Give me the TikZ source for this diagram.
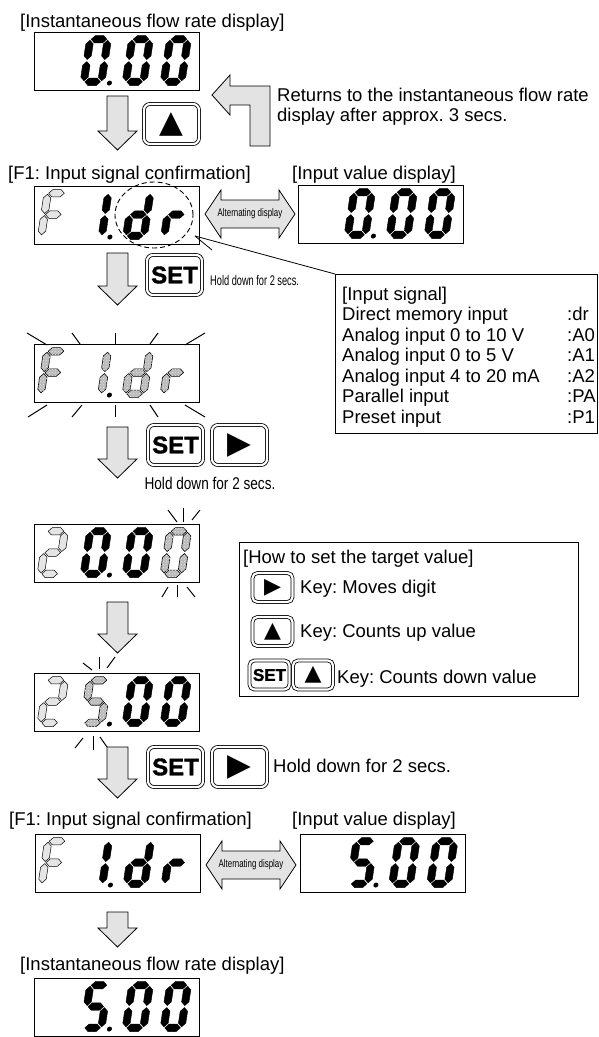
\documentclass[tikz,border=0pt]{standalone}
\usepackage{fontspec}
\setmainfont{Liberation Sans}
\newfontfamily\symfont{DejaVu Sans}
\newfontfamily\keyfont[FakeBold=1.6]{Liberation Sans Bold}
\usepackage{graphicx}
\usetikzlibrary{patterns}
\frenchspacing

% one segment, horizontal or vertical (local units, y down)
\newcommand\sgt{3.7}
\newcommand\hsg[4]{\path[#1] ({#2+1},#4) -- ({#2+1+\sgt},{#4-\sgt}) -- ({#3-1-\sgt},{#4-\sgt}) -- ({#3-1},#4) -- ({#3-1-\sgt},{#4+\sgt}) -- ({#2+1+\sgt},{#4+\sgt}) -- cycle;}
\newcommand\vsg[4]{\path[#1] (#2,{#3+1}) -- ({#2+\sgt},{#3+1+\sgt}) -- ({#2+\sgt},{#4-1-\sgt}) -- (#2,{#4-1}) -- ({#2-\sgt},{#4-1-\sgt}) -- ({#2-\sgt},{#3+1+\sgt}) -- cycle;}
\newcommand\sga[1]{\hsg{#1}{3.7}{21.3}{3.7}}
\newcommand\sgb[1]{\vsg{#1}{21.3}{3.7}{25}}
\newcommand\sgc[1]{\vsg{#1}{21.3}{25}{46.3}}
\newcommand\sgd[1]{\hsg{#1}{3.7}{21.3}{46.3}}
\newcommand\sge[1]{\vsg{#1}{3.7}{25}{46.3}}
\newcommand\sgf[1]{\vsg{#1}{3.7}{3.7}{25}}
\newcommand\sgg[1]{\hsg{#1}{3.7}{21.3}{25}}
% digit: display node, x offset, style, segments
\newcommand\segdigit[4]{%
  \begin{scope}[shift={(#1.north west)}, shift={(#2,4)}, xslant=0.15]
    \foreach \s in {#4} {\csname sg\s\endcsname{#3}}
  \end{scope}}
\newcommand\segdot[1]{%
  \begin{scope}[shift={(#1.north west)}, shift={(53.5,4)}, xslant=0.15]
    \fill (29.5,47.5) circle[radius=2.5pt];
  \end{scope}}
\newcommand\flowarrow[3]{\path[blockarrow] ({#1-10.5},#2) -- ({#1+10.5},#2) -- ({#1+10.5},{#3-19}) -- ({#1+19.5},{#3-19}) -- (#1,#3) -- ({#1-19.5},{#3-19}) -- ({#1-10.5},{#3-19}) -- cycle;}
\newcommand\altarrow[4]{%
  \path[blockarrow] (#2,#4) -- ({#2+16},{#4-24}) -- ({#2+16},{#4-14}) -- ({#3-16},{#4-14}) -- ({#3-16},{#4-24}) -- (#3,#4) -- ({#3-16},{#4+24}) -- ({#3-16},{#4+14}) -- ({#2+16},{#4+14}) -- ({#2+16},{#4+24}) -- cycle;
  \node[alttxt] (#1) at ({(#2+#3)/2},#4) {\scalebox{0.72}[1]{Alternating display}};}
\newcommand\keyup[1][31]{{\symfont\fontsize{#1}{#1}\selectfont ▲}}
\newcommand\keyright[1][31]{{\symfont\fontsize{#1}{#1}\selectfont ▶}}
\newcommand\keyset[1][24]{{\keyfont\fontsize{#1}{#1}\selectfont SET}}

\tikzset{
  dispbox/.style={draw, line width=0.9pt, minimum width=165, minimum height=58, inner sep=0},
  segon/.style={fill=black, draw=black, line width=0.4pt},
  segdim/.style={fill=gray!20, draw=black, line width=0.5pt},
  segblink/.style={fill=gray!55, draw=black, line width=0.6pt,
    postaction={pattern=crosshatch dots, pattern color=gray!20}},
  ray/.style={line width=1pt},
  blockarrow/.style={fill=gray!22, draw=black, line width=0.8pt},
  keybox/.style={draw, double, double distance=2.2pt, line width=0.8pt,
    rounded corners=6pt, minimum width=55, minimum height=40, inner sep=0},
  smallkey/.style={keybox, rounded corners=5pt, minimum width=40, minimum height=29},
  txt/.style={inner sep=0, font=\fontsize{18.5}{20}\selectfont},
  alttxt/.style={inner sep=0, font=\fontsize{11}{12}\selectfont},
  infobox/.style={draw, line width=0.9pt, inner sep=0}
}

\begin{document}
\begin{tikzpicture}[x=1pt, y=-1pt]
\useasboundingbox (0,0) rectangle (598,1037);

% instantaneous flow rate
\node[txt, anchor=base west] (t1) at (20,27) {[Instantaneous flow rate display]};
\node[dispbox] (d1) at (116.5,61) {};
\segdigit{d1}{53.5}{segon}{a,b,c,d,e,f}
\segdot{d1}
\segdigit{d1}{95.5}{segon}{a,b,c,d,e,f}
\segdigit{d1}{133.5}{segon}{a,b,c,d,e,f}

\flowarrow{117.5}{96}{150}
\node[keybox] (k1) at (171.5,124) {\keyup};
\path[blockarrow] (212,95) -- (230,75) -- (230,86) -- (270,86) -- (270,146) -- (250,146)
  -- (250,105) -- (230,105) -- (230,115) -- cycle;
\node[txt, anchor=base west] (r1) at (277,101) {Returns to the instantaneous flow rate};
\node[txt, anchor=base west] (r2) at (277,121) {display after approx. 3 secs.};

% F1 confirmation
\node[txt, anchor=base west] (t2) at (8,179) {[F1: Input signal confirmation]};
\node[txt, anchor=base west] (t3) at (292,179) {[Input value display]};
\node[dispbox] (d2) at (117,215) {};
\segdigit{d2}{10.5}{segdim}{a,f,g,e}
\segdigit{d2}{53.5}{segon}{b,c}
\segdot{d2}
\segdigit{d2}{95.5}{segon}{b,c,d,e,g}
\segdigit{d2}{133.5}{segon}{e,g}
\node[dispbox] (d3) at (380.5,214) {};
\segdigit{d3}{53.5}{segon}{a,b,c,d,e,f}
\segdot{d3}
\segdigit{d3}{95.5}{segon}{a,b,c,d,e,f}
\segdigit{d3}{133.5}{segon}{a,b,c,d,e,f}
\altarrow{alt1}{205}{295}{214}

% callout to input signal list
\draw[dashed, dash pattern=on 5pt off 3pt, line width=0.9pt] (154,215) ellipse[x radius=39pt, y radius=33pt];
\node[infobox, minimum width=262, minimum height=159, anchor=north west] (sig) at (335,274) {};
\coordinate (tip) at (195,236);
\draw[line width=0.8pt] (tip) -- (sig.north west);
\draw[line width=0.8pt] (tip) -- (212,250);
\node[txt, anchor=base west] (sg0) at (342,300) {[Input signal]};
\foreach \lbl/\code [count=\i] in {Direct memory input/:dr, Analog input 0 to 10 V/:A0,
    Analog input 0 to 5 V/:A1, Analog input 4 to 20 mA/:A2, Parallel input/:PA, Preset input/:P1}
{
  \node[txt, anchor=base west] (sl\i) at (342,{300+20.5*\i}) {\lbl};
  \node[txt, anchor=base west] (sc\i) at (567,{300+20.5*\i}) {\code};
}

\flowarrow{117.5}{253}{305}
\node[keybox] (k2) at (174.5,275) {\keyset};
\node[anchor=base west, inner sep=0, font=\fontsize{14}{14}\selectfont] (h1) at (210,285)
  {\scalebox{0.66}[1]{Hold down for 2 secs.}};

% blinking F1.dr
\node[dispbox] (d4) at (116.5,373) {};
\segdigit{d4}{10.5}{segblink}{a,f,g,e}
\segdigit{d4}{53.5}{segblink}{b,c}
\segdot{d4}
\segdigit{d4}{95.5}{segblink}{b,c,d,e,g}
\segdigit{d4}{133.5}{segblink}{e,g}
\draw[ray] (27,333) -- (47,345);
\draw[ray] (72,333) -- (80,344);
\draw[ray] (115,333) -- (115,345);
\draw[ray] (158,333) -- (150,344);
\draw[ray] (205,333) -- (185,345);
\draw[ray] (28,417) -- (47,405);
\draw[ray] (72,417) -- (82,405);
\draw[ray] (115,417) -- (115,405);
\draw[ray] (158,417) -- (150,405);
\draw[ray] (205,417) -- (185,405);

\flowarrow{117.5}{427}{478}
\node[keybox] (k3) at (175.5,445) {\keyset};
\node[keybox] (k4) at (239.5,445) {\keyright};
\node[anchor=base, inner sep=0, font=\fontsize{17}{17}\selectfont] (h2) at (210,489)
  {\scalebox{0.8}[1]{Hold down for 2 secs.}};

% 20.00
\node[dispbox] (d5) at (116.5,553) {};
\segdigit{d5}{10.5}{segdim}{a,b,g,e,d}
\segdigit{d5}{53.5}{segon}{a,b,c,d,e,f}
\segdot{d5}
\segdigit{d5}{95.5}{segon}{a,b,c,d,e,f}
\segdigit{d5}{133.5}{segblink}{a,b,c,d,e,f}
\draw[ray] (168,510) -- (177,522);
\draw[ray] (183,508) -- (183,522);
\draw[ray] (200,510) -- (192,520);
\draw[ray] (162,597) -- (168,587);
\draw[ray] (177,597) -- (177,585);
\draw[ray] (195,597) -- (187,587);

\flowarrow{117.5}{602}{653}

% how to set the target value
\node[infobox, minimum width=339, minimum height=154, anchor=north west] (howto) at (239,542) {};
\node[txt, anchor=base west] (ht) at (243,563) {[How to set the target value]};
\node[smallkey] (hk1) at (272.5,587.5) {\keyright[22]};
\node[txt, anchor=base west] (hx1) at (300,593) {Key: Moves digit};
\node[smallkey] (hk2) at (272.5,631.5) {\keyup[22]};
\node[txt, anchor=base west] (hx2) at (300,637) {Key: Counts up value};
\node[smallkey] (hk3) at (269.5,675) {\keyset[17]};
\node[smallkey] (hk4) at (313,675) {\keyup[22]};
\node[txt, anchor=base west] (hx3) at (337,683) {Key: Counts down value};

% 25.00
\node[dispbox] (d6) at (116.5,702) {};
\segdigit{d6}{10.5}{segdim}{a,b,g,e,d}
\segdigit{d6}{53.5}{segblink}{a,f,g,c,d}
\segdot{d6}
\segdigit{d6}{95.5}{segon}{a,b,c,d,e,f}
\segdigit{d6}{133.5}{segon}{a,b,c,d,e,f}
\draw[ray] (83,663) -- (92,670);
\draw[ray] (99,657) -- (99,669);
\draw[ray] (115,657) -- (107,668);
\draw[ray] (75,748) -- (83,738);
\draw[ray] (93,750) -- (93,736);
\draw[ray] (107,747) -- (100,737);

\flowarrow{117.5}{747}{798}
\node[keybox] (k5) at (175.5,767) {\keyset};
\node[keybox] (k6) at (239.5,767) {\keyright};
\node[txt, anchor=base west] (h3) at (273,772) {Hold down for 2 secs.};

% back to F1 confirmation
\node[txt, anchor=base west] (t4) at (9,825) {[F1: Input signal confirmation]};
\node[txt, anchor=base west] (t5) at (292,825) {[Input value display]};
\node[dispbox] (d7) at (117.5,863) {};
\segdigit{d7}{10.5}{segdim}{a,f,g,e}
\segdigit{d7}{53.5}{segon}{b,c}
\segdot{d7}
\segdigit{d7}{95.5}{segon}{b,c,d,e,g}
\segdigit{d7}{133.5}{segon}{e,g}
\node[dispbox] (d8) at (383,863) {};
\segdigit{d8}{53.5}{segon}{a,f,g,c,d}
\segdot{d8}
\segdigit{d8}{95.5}{segon}{a,b,c,d,e,f}
\segdigit{d8}{133.5}{segon}{a,b,c,d,e,f}
\altarrow{alt2}{206}{296}{865}

\flowarrow{117.5}{912}{947}

% instantaneous flow rate again
\node[txt, anchor=base west] (t6) at (20,970) {[Instantaneous flow rate display]};
\node[dispbox] (d9) at (116.5,1007) {};
\segdigit{d9}{53.5}{segon}{a,f,g,c,d}
\segdot{d9}
\segdigit{d9}{95.5}{segon}{a,b,c,d,e,f}
\segdigit{d9}{133.5}{segon}{a,b,c,d,e,f}
\end{tikzpicture}
\end{document}
